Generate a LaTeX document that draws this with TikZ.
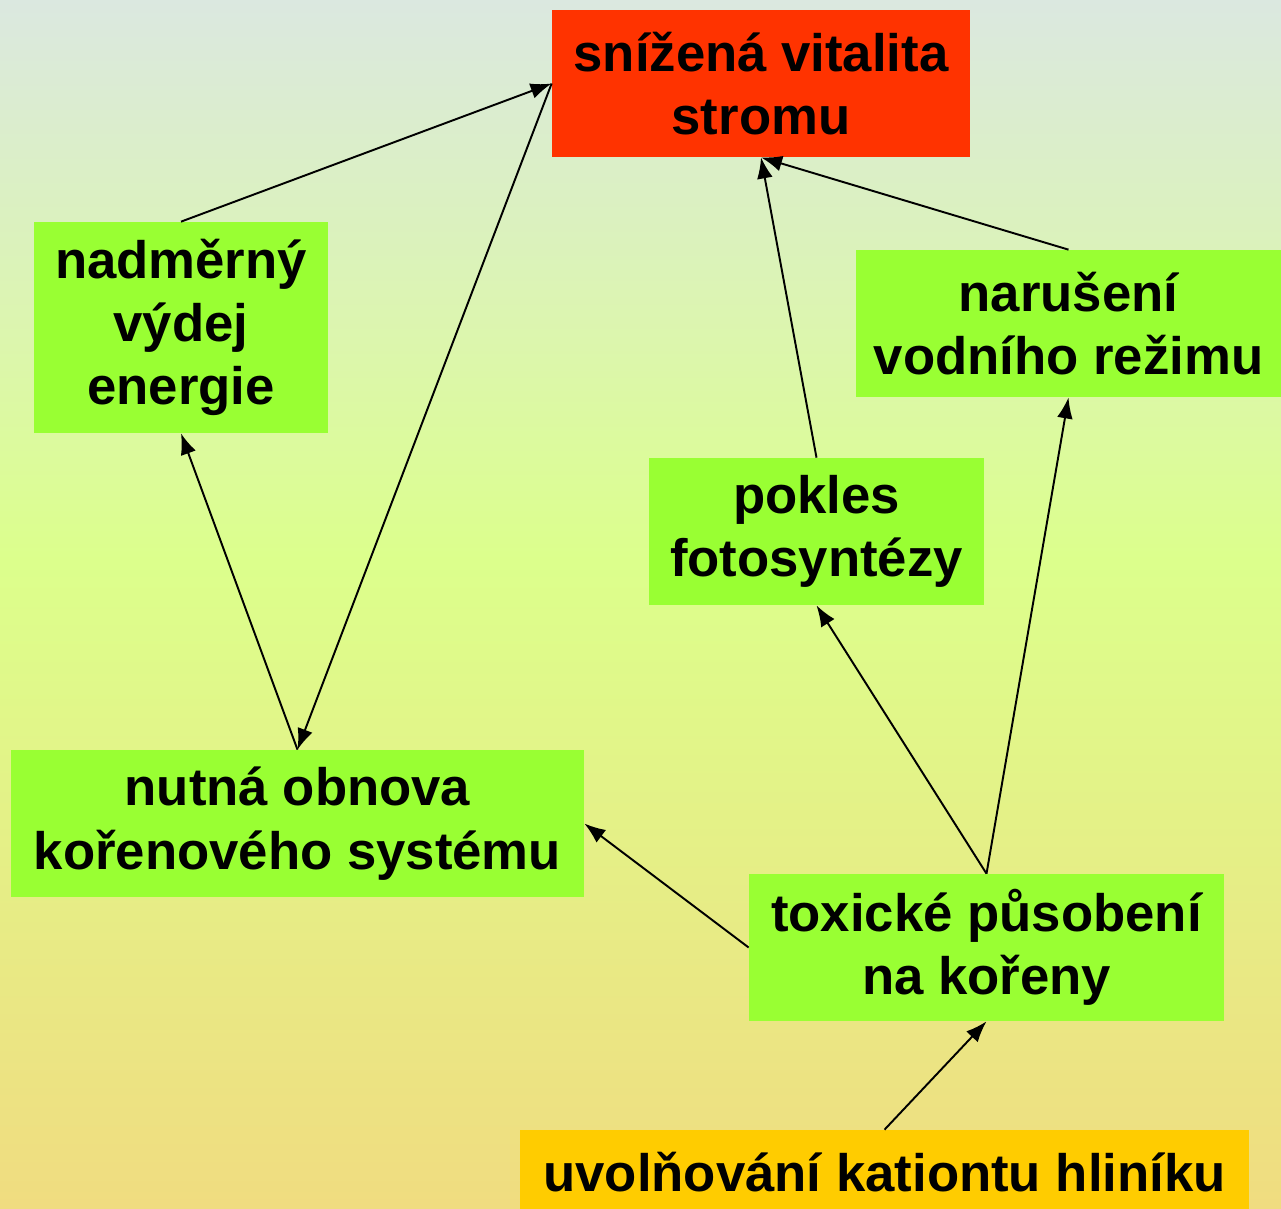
\documentclass[tikz,border=0pt]{standalone}
\usepackage{fontspec}
\setmainfont{Liberation Sans}
\usetikzlibrary{arrows.meta}

\definecolor{bgtop}{RGB}{219,232,224}
\definecolor{bgmid}{RGB}{220,255,140}
\definecolor{bgbot}{RGB}{240,220,128}
\definecolor{cervena}{RGB}{255,51,0}
\definecolor{zelena}{RGB}{153,255,51}
\definecolor{oranzova}{RGB}{255,204,0}

\tikzset{
  box/.style={fill=zelena, inner sep=0pt, align=center,
    font=\fontsize{30}{36}\selectfont\bfseries},
  sipka/.style={line width=1.1pt, -{Latex[length=12pt,width=9pt]}}
}

\begin{document}
\begin{tikzpicture}[x=0.02cm, y=-0.02cm]
  % background
  \useasboundingbox (0,0) rectangle (1281,1208);
  \shade[top color=bgtop, bottom color=bgmid] (0,0) rectangle (1281,560);
  \shade[top color=bgmid, bottom color=bgbot] (0,560) rectangle (1281,1208);

  % boxes
  \node[box, fill=cervena, minimum width=418*0.02cm, minimum height=147*0.02cm] (snizena) at (761,83.5) {snížená vitalita\\stromu};
  \node[box, minimum width=294*0.02cm, minimum height=211*0.02cm] (vydej) at (181,327.5) {nadměrný\\výdej\\energie};
  \node[box, minimum width=425*0.02cm, minimum height=147*0.02cm] (rezim) at (1068.5,323.5) {narušení\\vodního režimu};
  \node[box, minimum width=335*0.02cm, minimum height=147*0.02cm] (fotosynteza) at (816.5,531.5) {pokles\\fotosyntézy};
  \node[box, minimum width=573*0.02cm, minimum height=147*0.02cm] (obnova) at (297.5,823.5) {nutná obnova\\kořenového systému};
  \node[box, minimum width=475*0.02cm, minimum height=147*0.02cm] (toxicke) at (986.5,947.5) {toxické působení\\na kořeny};
  \node[box, fill=oranzova, minimum width=729*0.02cm, minimum height=85*0.02cm] (hlinik) at (884.5,1172.5) {uvolňování kationtu hliníku};

  % arrows
  \draw[sipka] (vydej.north) -- (snizena.west);
  \draw[sipka] (snizena.west) -- (obnova.north);
  \draw[sipka] (obnova.north) -- (vydej.south);
  \draw[sipka] (fotosynteza.north) -- (snizena.south);
  \draw[sipka] (rezim.north) -- (snizena.south);
  \draw[sipka] (toxicke.north) -- (fotosynteza.south);
  \draw[sipka] (toxicke.north) -- (rezim.south);
  \draw[sipka] (toxicke.west) -- (obnova.east);
  \draw[sipka] (hlinik.north) -- (toxicke.south);
\end{tikzpicture}
\end{document}
